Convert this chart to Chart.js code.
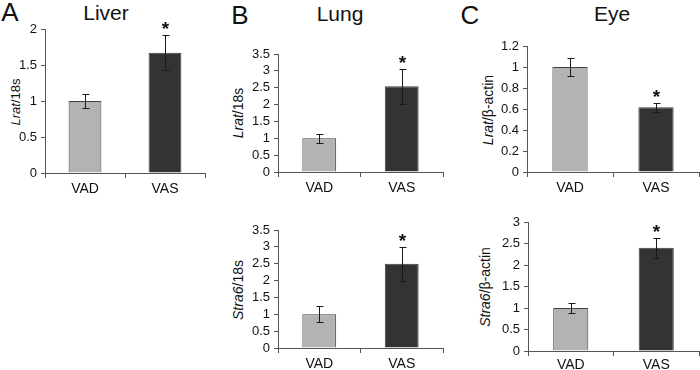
<!DOCTYPE html>
<html>
<head>
<meta charset="utf-8">
<script src="https://cdn.jsdelivr.net/npm/chart.js@4"></script>
<style>
  html, body { margin:0; padding:0; background:#fff; }
  #wrap { position:relative; width:700px; height:370px; overflow:hidden; font-family:'Liberation Sans', Arial, sans-serif; color:#111; }
  canvas { position:absolute; }
  .lbl { position:absolute; transform:translate(-50%,-50%); white-space:nowrap; line-height:1; }
  .letter { font-size:26px; }
  .ttl { font-size:21px; }
  .yt { position:absolute; transform:translate(-50%,-50%) rotate(-90deg); white-space:nowrap; font-size:14px; line-height:1; }
</style>
</head>
<body>
<div id="wrap">
  <div class="lbl letter" style="left:10px;top:12px;">A</div>
  <div class="lbl ttl" style="left:106px;top:12px;">Liver</div>
  <div class="lbl letter" style="left:240px;top:15px;">B</div>
  <div class="lbl ttl" style="left:340px;top:13px;">Lung</div>
  <div class="lbl letter" style="left:470px;top:15px;">C</div>
  <div class="lbl ttl" style="left:612px;top:13px;">Eye</div>

  <div class="yt" style="left:15px;top:102px;font-size:13px;"><i>Lrat</i>/18s</div>
  <div class="yt" style="left:238px;top:113px;"><i>Lrat</i>/18s</div>
  <div class="yt" style="left:238px;top:290px;"><i>Stra6</i>/18s</div>
  <div class="yt" style="left:488px;top:110px;"><i>Lrat</i>/β-actin</div>
  <div class="yt" style="left:485px;top:287px;"><i>Stra6</i>/β-actin</div>

  <canvas id="cA" width="210" height="200" style="left:0px;top:0px;"></canvas>
  <canvas id="cB1" width="220" height="200" style="left:230px;top:0px;"></canvas>
  <canvas id="cB2" width="220" height="190" style="left:230px;top:180px;"></canvas>
  <canvas id="cC1" width="240" height="200" style="left:460px;top:0px;"></canvas>
  <canvas id="cC2" width="240" height="190" style="left:460px;top:180px;"></canvas>
</div>
<script>
// ---- data ----
const categories = ['VAD', 'VAS'];

const liverLrat    = [1.00, 1.67];
const liverLratErr = [0.10, 0.24];

const lungLrat     = [1.00, 2.54];
const lungLratErr  = [0.13, 0.51];

const lungStra6    = [1.00, 2.50];
const lungStra6Err = [0.24, 0.51];

const eyeLrat      = [1.00, 0.616];
const eyeLratErr   = [0.087, 0.040];

const eyeStra6     = [1.00, 2.40];
const eyeStra6Err  = [0.12, 0.23];

// significance markers (true = asterisk above bar)
const liverStar     = [false, true];
const lungLratStar  = [false, true];
const lungStra6Star = [false, true];
const eyeLratStar   = [false, true];
const eyeStra6Star  = [false, true];

// tick labels
const ticks2   = [0, 0.5, 1, 1.5, 2];
const ticks35  = [0, 0.5, 1, 1.5, 2, 2.5, 3, 3.5];
const ticks12  = [0, 0.2, 0.4, 0.6, 0.8, 1, 1.2];
const ticks3   = [0, 0.5, 1, 1.5, 2, 2.5, 3];

const FONT = "'Liberation Sans', Arial, sans-serif";
const barFill = ['#b3b3b3', '#333333'];
const axisColor = '#555555';

const errPlugin = {
  id: 'errbars',
  afterDatasetsDraw(chart, args, opts) {
    const ctx = chart.ctx;
    const meta = chart.getDatasetMeta(0);
    const ys = chart.scales.y;
    const data = chart.data.datasets[0].data;
    ctx.save();
    ctx.strokeStyle = '#1a1a1a';
    ctx.lineWidth = 1;
    meta.data.forEach((el, i) => {
      const v = data[i], e = opts.errors[i];
      const x = Math.round(el.x) + 0.5;
      const yt = Math.round(ys.getPixelForValue(v + e)) + 0.5;
      const yb = Math.round(ys.getPixelForValue(v - e)) + 0.5;
      ctx.beginPath();
      ctx.moveTo(x, yt); ctx.lineTo(x, yb);
      ctx.moveTo(x - 3, yt); ctx.lineTo(x + 4, yt);
      ctx.moveTo(x - 3, yb); ctx.lineTo(x + 4, yb);
      ctx.stroke();
      if (opts.stars[i]) {
        ctx.fillStyle = '#111';
        ctx.font = 'bold 19px ' + FONT;
        ctx.textAlign = 'center';
        ctx.textBaseline = 'alphabetic';
        ctx.fillText('*', x, yt - 12 + 11);
      }
    });
    ctx.restore();
  }
};

function makePanel(id, values, errors, stars, tickVals, max, cfg) {
  new Chart(document.getElementById(id), {
    type: 'bar',
    data: {
      labels: categories,
      datasets: [{
        data: values,
        backgroundColor: barFill,
        borderColor: '#404040',
        borderWidth: 1,
        barPercentage: 0.41,
        categoryPercentage: 1.0
      }]
    },
    plugins: [errPlugin],
    options: {
      responsive: false,
      animation: false,
      devicePixelRatio: 1,
      layout: { padding: { left: 0, right: cfg.right, top: cfg.top, bottom: 0 } },
      plugins: {
        legend: { display: false },
        tooltip: { enabled: false },
        title: { display: false },
        errbars: { errors: errors, stars: stars }
      },
      scales: {
        x: {
          offset: true,
          grid: { display: true, offset: true, drawOnChartArea: false, drawTicks: true, tickLength: 5, color: axisColor },
          border: { display: true, color: axisColor, width: 1 },
          ticks: { color: '#111', font: { family: FONT, size: 14 }, padding: cfg.xpad, maxRotation: 0, autoSkip: false },
          afterFit: s => { s.height = cfg.xh; }
        },
        y: {
          min: 0, max: max,
          afterBuildTicks: s => { s.ticks = tickVals.map(v => ({ value: v })); },
          grid: { display: true, drawOnChartArea: false, drawTicks: true, tickLength: 4, color: axisColor },
          border: { display: true, color: axisColor, width: 1 },
          ticks: { color: '#111', font: { family: FONT, size: 13 }, padding: 4, autoSkip: false,
                   callback: v => String(+Number(v).toFixed(2)) },
          afterFit: s => { s.width = cfg.yw; }
        }
      }
    }
  });
}

makePanel('cA',  liverLrat, liverLratErr, liverStar,     ticks2,  2,   { right: 5, top: 29, xh: 27, yw: 45, xpad: 3 });
makePanel('cB1', lungLrat,  lungLratErr,  lungLratStar,  ticks35, 3.5, { right: 7, top: 54, xh: 28, yw: 48, xpad: 3 });
makePanel('cB2', lungStra6, lungStra6Err, lungStra6Star, ticks35, 3.5, { right: 7, top: 50, xh: 22, yw: 48, xpad: 3 });
makePanel('cC1', eyeLrat,   eyeLratErr,   eyeLratStar,   ticks12, 1.2, { right: 1, top: 46, xh: 28, yw: 67, xpad: 3 });
makePanel('cC2', eyeStra6,  eyeStra6Err,  eyeStra6Star,  ticks3,  3,   { right: 1, top: 42, xh: 19, yw: 68, xpad: 1 });
</script>
</body>
</html>
